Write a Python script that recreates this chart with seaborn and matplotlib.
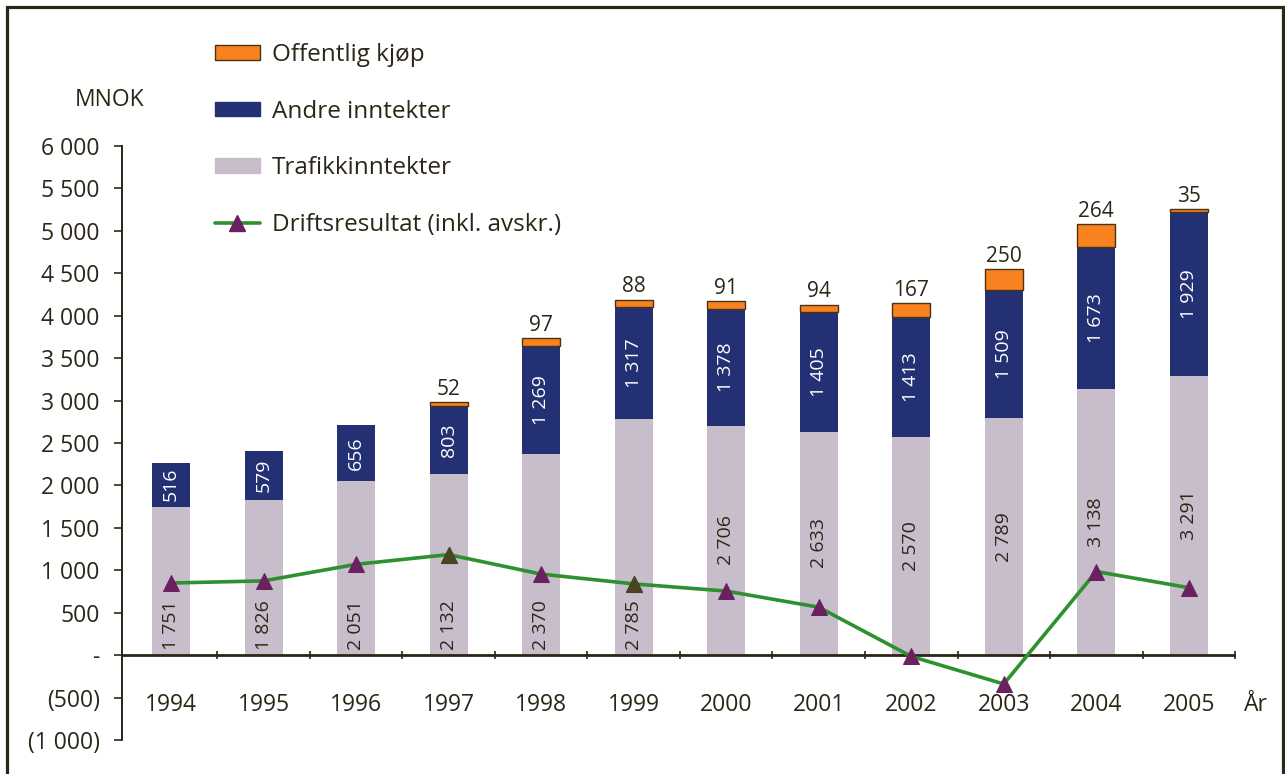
import numpy as np
import pandas as pd
import matplotlib
matplotlib.use("Agg")
import matplotlib.pyplot as plt
import seaborn as sns
from matplotlib.patches import Rectangle, Patch
from matplotlib.lines import Line2D

# ---------------- data ----------------
years = ["1994", "1995", "1996", "1997", "1998", "1999",
         "2000", "2001", "2002", "2003", "2004", "2005"]
trafikk = [1751, 1826, 2051, 2132, 2370, 2785, 2706, 2633, 2570, 2789, 3138, 3291]
andre = [516, 579, 656, 803, 1269, 1317, 1378, 1405, 1413, 1509, 1673, 1929]
offentlig = [0, 0, 0, 52, 97, 88, 91, 94, 167, 250, 264, 35]
drift = [850, 875, 1070, 1185, 955, 840, 755, 565, -15, -340, 985, 795]
ytick_values = [-1000, -500, 0, 500, 1000, 1500, 2000, 2500, 3000, 3500, 4000, 4500, 5000, 5500, 6000]
ytick_labels = ["(1 000)", "(500)", "-", "500", "1 000", "1 500", "2 000", "2 500",
                "3 000", "3 500", "4 000", "4 500", "5 000", "5 500", "6 000"]
legend_labels = ["Offentlig kjøp", "Andre inntekter", "Trafikkinntekter",
                 "Driftsresultat (inkl. avskr.)"]

# ---------------- style ----------------
C_TRAF = "#C8BDCB"
C_ANDRE = "#233174"
C_OFF = "#F7821F"
C_OFF_EDGE = "#4A3315"
C_LINE = "#2E9130"
C_MARK = "#6A2061"
C_MARK2 = "#4A4420"
C_TXT = "#2B2617"

sns.set_theme(style="white")
plt.rcParams["font.family"] = ["Open Sans", "DejaVu Sans"]
plt.rcParams["text.color"] = C_TXT

df = pd.DataFrame({"year": years, "traf": trafikk, "andre": andre,
                   "off": offentlig, "drift": drift})
df["mid"] = df["traf"] + df["andre"]

fig = plt.figure(figsize=(12.85, 7.74), dpi=100)
ax = fig.add_axes([122 / 1285, 1 - 740 / 774, (1236 - 122) / 1285, (740 - 146) / 774])

W = 0.41
sns.barplot(data=df, x="year", y="mid", color=C_ANDRE, saturation=1, width=W,
            linewidth=0, ax=ax, zorder=2)
sns.barplot(data=df, x="year", y="traf", color=C_TRAF, saturation=1, width=W,
            linewidth=0, ax=ax, zorder=2)
sns.barplot(data=df, x="year", y="off", bottom=df["mid"].values, color=C_OFF,
            saturation=1, width=W, edgecolor=C_OFF_EDGE, linewidth=1.0, ax=ax, zorder=2)
# hide zero-height orange bars (no Offentlig kjøp)
for p in ax.patches:
    if p.get_height() == 0:
        p.set_visible(False)

# line
sns.lineplot(data=df, x="year", y="drift", sort=False, color=C_LINE, lw=2.6,
             marker="^", markersize=11, markerfacecolor=C_MARK,
             markeredgecolor=C_MARK, ax=ax, zorder=4)
dark = df[df["year"].isin(["1997", "1999"])]
sns.scatterplot(data=dark, x="year", y="drift", marker="^", s=130, color=C_MARK2,
                edgecolor=C_MARK2, ax=ax, zorder=5)

ax.set_xlim(-0.53, 11.51)
ax.set_ylim(-1000, 6000)
ax.set_xlabel("")
ax.set_ylabel("")

# zero axis with category separator ticks
ax.axhline(0, color=C_TXT, lw=2, zorder=3)
bounds = np.arange(0.5, len(years), 1.0)
ax.vlines(bounds, -45, 45, color=C_TXT, lw=1.2, zorder=3)
ax.set_xticks([])

# y axis
ax.set_yticks(ytick_values)
ax.set_yticklabels(ytick_labels, fontsize=16.5, color=C_TXT)
ax.tick_params(axis="y", length=6, width=1.2, color=C_TXT, direction="out", pad=10, left=True)
for s in ["top", "right", "bottom"]:
    ax.spines[s].set_visible(False)
ax.spines["left"].set_color(C_TXT)
ax.spines["left"].set_linewidth(1.4)
ax.grid(False)

# year labels
for i, y in enumerate(years):
    ax.text(i, -590, y, ha="center", va="center", fontsize=16.5, color=C_TXT)
ax.text(11.6, -590, "År", ha="left", va="center", fontsize=16.5, color=C_TXT, clip_on=False)

# value labels
def fmt(v):
    return f"{v:,}".replace(",", " ")

for i in range(len(years)):
    t = trafikk[i]
    if int(years[i]) < 2000:
        ax.text(i, 55, fmt(t), rotation=90, ha="center", va="bottom", fontsize=14, color=C_TXT, zorder=6)
    else:
        ax.text(i, t / 2, fmt(t), rotation=90, ha="center", va="center", fontsize=14, color=C_TXT, zorder=6)
    a = andre[i]
    ax.text(i, t + a / 2, fmt(a), rotation=90, ha="center", va="center", fontsize=14, color="white", zorder=6)
    o = offentlig[i]
    if o > 0:
        ax.text(i, t + a + o + 25, fmt(o), ha="center", va="bottom", fontsize=15, color=C_TXT, zorder=6)

# MNOK
fig.text(75 / 1285, 1 - 100 / 774, "MNOK", ha="left", va="center", fontsize=16.5, color=C_TXT)

# legend
handles = [
    Patch(facecolor=C_OFF, edgecolor=C_OFF_EDGE, linewidth=1.0),
    Patch(facecolor=C_ANDRE, edgecolor=C_ANDRE),
    Patch(facecolor=C_TRAF, edgecolor=C_TRAF),
    Line2D([0], [0], color=C_LINE, lw=2.6, marker="^", markersize=11,
           markerfacecolor=C_MARK, markeredgecolor=C_MARK),
]
fig.legend(handles, legend_labels, loc="upper left",
           bbox_to_anchor=(215 / 1285, 1 - 43 / 774), frameon=False,
           fontsize=17.5, handlelength=1.85, handleheight=0.55, handletextpad=0.5,
           labelspacing=1.34, borderpad=0, borderaxespad=0, labelcolor=C_TXT)

# figure border
fig.patches.append(Rectangle((7 / 1285, -0.05), (1283 - 7) / 1285, 1.05 - 7 / 774,
                             transform=fig.transFigure, fill=False,
                             edgecolor=C_TXT, lw=2.3))

fig.savefig("out.png", dpi=100)
